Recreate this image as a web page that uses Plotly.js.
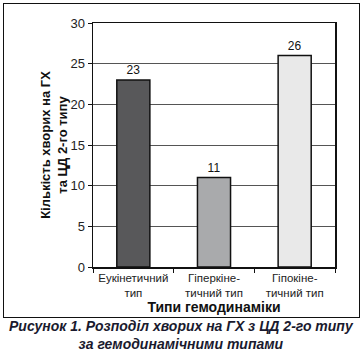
<!DOCTYPE html>
<html>
<head>
<meta charset="utf-8">
<script src="https://cdn.plot.ly/plotly-3.0.1.min.js"></script>
<style>
  html, body { margin: 0; padding: 0; background: #fff; }
  #wrap { position: relative; width: 364px; height: 356px; }
  #chart { width: 364px; height: 356px; }
  #frame { position: absolute; left: 3px; top: 3px; width: 355px; height: 313px; border: 1.5px solid #111; pointer-events: none; }
</style>
</head>
<body>
<div id="wrap">
  <div id="chart"></div>
  <div id="frame"></div>
</div>
<script>
const categories = ["Еукінетичний<br>тип", "Гіперкіне-<br>тичний тип", "Гіпокіне-<br>тичний тип"];
const values = [23, 11, 26];
const barColors = ["#58585a", "#a9aaac", "#e9e9e9"];
const yTitle = "Кількість хворих на ГХ<br>та ЦД 2-го типу";
const xTitle = "Типи гемодинаміки";
const caption = "Рисунок 1. Розподіл хворих на ГХ з ЦД 2-го типу<br>за гемодинамічними типами";

const font = "Liberation Sans, Arial, sans-serif";

Plotly.newPlot("chart", [{
  type: "bar",
  x: categories,
  y: values,
  text: values.map(String),
  textposition: "outside",
  textfont: { family: font, size: 12, color: "#111" },
  cliponaxis: false,
  marker: { color: barColors, line: { color: "#111", width: 1.5 } },
  hoverinfo: "none"
}], {
  width: 364, height: 356,
  margin: { l: 93, r: 29, t: 23, b: 89 },
  paper_bgcolor: "#fff", plot_bgcolor: "#fff",
  bargap: 0.59,
  showlegend: false,
  font: { family: font, size: 12, color: "#222" },
  xaxis: {
    tickson: "boundaries",
    ticks: "outside", ticklen: 4, tickcolor: "#111",
    showline: true, linecolor: "#111", linewidth: 1.5, mirror: true,
    tickfont: { family: font, size: 11.5, color: "#222" },
    title: { text: xTitle, font: { family: font, size: 14, color: "#111", weight: "bold" }, standoff: 4 },
    fixedrange: true
  },
  yaxis: {
    range: [0, 30],
    dtick: 5,
    ticks: "outside", ticklen: 4, tickcolor: "#111",
    showline: true, linecolor: "#111", linewidth: 1.5, mirror: true,
    gridcolor: "#555", gridwidth: 1,
    zeroline: false,
    tickfont: { family: font, size: 13, color: "#222" },
    title: { text: yTitle, font: { family: font, size: 13, color: "#111", weight: "bold" }, standoff: 0 },
    fixedrange: true
  },
  annotations: [{
    text: caption,
    xref: "paper", yref: "paper",
    x: 0.364, y: -0.277,
    xanchor: "center", yanchor: "middle",
    showarrow: false,
    font: { family: font, size: 14, color: "#1a1a2e", weight: "bold", style: "italic" }
  }]
}, { displayModeBar: false, staticPlot: true });
</script>
</body>
</html>
